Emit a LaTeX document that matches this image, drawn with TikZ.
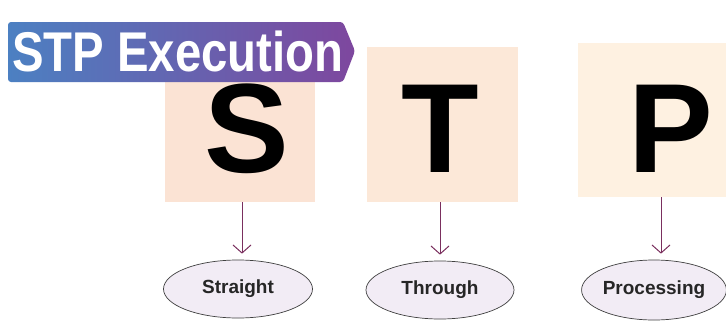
\documentclass[tikz,border=0pt]{standalone}
\usepackage{fontspec}
\setmainfont{Liberation Sans}
\usetikzlibrary{shapes.geometric,arrows.meta}
\definecolor{boxS}{HTML}{FBE3D4}
\definecolor{boxT}{HTML}{FCE8D8}
\definecolor{boxP}{HTML}{FEF1E1}
\definecolor{arr}{HTML}{7A2F5E}
\definecolor{ellfill}{HTML}{F2ECF5}
\definecolor{bannerL}{HTML}{4C80C2}
\definecolor{bannerR}{HTML}{7E479E}
\tikzset{
  letterbox/.style={draw=none,inner sep=0pt,outer sep=0pt},
  bigletter/.style={font=\fontsize{127}{127}\selectfont\bfseries,inner sep=0pt,anchor=base},
  connector/.style={draw=arr,line width=1pt,-{Straight Barb[length=8pt,width=18pt,line width=1pt]}},
  oval/.style={ellipse,draw=black!75,line width=0.7pt,fill=ellfill,inner sep=0pt,
    font=\fontsize{19}{19}\selectfont\bfseries,text=black!85}
}
\begin{document}
\begin{tikzpicture}[x=1pt,y=-1pt]
\useasboundingbox (0,0) rectangle (726,324);
\fill[white] (0,0) rectangle (726,324);
% boxes
\fill[boxS] (165,80) rectangle (315,202);
\node[letterbox,minimum width=150pt,minimum height=122pt] (Sbox) at (240,141) {};
\fill[boxT] (367,47) rectangle (518,202);
\node[letterbox,minimum width=151pt,minimum height=155pt] (Tbox) at (442.5,124.5) {};
\fill[boxP] (578,43) rectangle (726,197);
\node[letterbox,minimum width=148pt,minimum height=154pt] (Pbox) at (652,120) {};
% letters
\node[bigletter] (S) at (247,172) {S};
\node[bigletter] (T) at (440,172) {T};
\node[bigletter] (P) at (671,172) {P};
% ellipses
\node[oval,minimum width=149pt,minimum height=58pt] (straight) at (238,289) {Straight};
\node[oval,minimum width=148pt,minimum height=58pt] (through) at (440,290) {Through};
\node[oval,minimum width=142pt,minimum height=60pt] (processing) at (654,290) {Processing};
% connectors
\coordinate (sa) at (242,202);
\coordinate (ta) at (440,202);
\coordinate (pa) at (661,197);
\draw[connector] (sa) -- ([yshift=6pt]sa |- straight.north);
\draw[connector] (ta) -- ([yshift=6pt]ta |- through.north);
\draw[connector] (pa) -- ([yshift=6pt]pa |- processing.north);
% banner
\shade[left color=bannerL,right color=bannerR,rounded corners=3pt]
  (8,22) -- (343,22) -- (355,51) -- (343,82) -- (8,82) -- cycle;
\node[inner sep=0pt,anchor=base west,text=white,font=\fontsize{56}{56}\selectfont\bfseries] (title) at (12,71) {\scalebox{0.845}[1]{STP Execution}};
\end{tikzpicture}
\end{document}
